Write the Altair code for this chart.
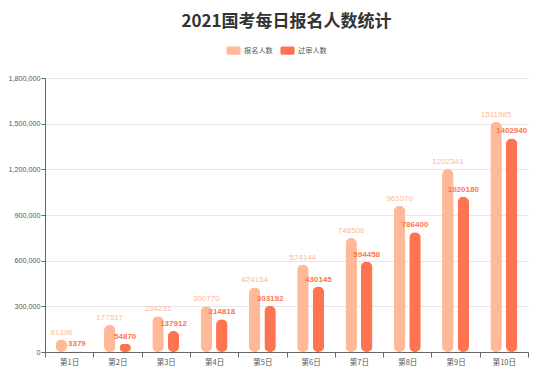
import altair as alt
import pandas as pd

days = ["第1日", "第2日", "第3日", "第4日", "第5日", "第6日", "第7日", "第8日", "第9日", "第10日"]
registered = [81396, 177517, 234231, 300770, 424154, 574144, 748506, 961070, 1202341, 1511985]
approved = [3379, 54870, 137912, 214818, 303192, 430145, 594458, 786400, 1020180, 1402940]
series_names = ["报名人数", "过审人数"]
colors = ["#FFB999", "#FF7450"]
label_colors = ["#FFB999", "#FF7450"]

rows = []
for d, r, a in zip(days, registered, approved):
    rows.append({"day": d, "series": series_names[0], "value": r})
    rows.append({"day": d, "series": series_names[1], "value": a})
df = pd.DataFrame(rows)

FONT = "Noto Sans CJK SC"
NUMFONT = "Liberation Sans"

x = alt.X("day:N", sort=days, title=None,
          scale=alt.Scale(paddingInner=0, paddingOuter=0),
          axis=alt.Axis(labelAngle=0, labelFontSize=7.5, labelColor="#555", labelFont=FONT,
                        domainColor="#666", tickColor="#666", tickBand="extent",
                        tickSize=5, labelPadding=1, grid=False))
xoff = alt.XOffset("series:N", sort=series_names,
                   scale=alt.Scale(paddingInner=0.26, paddingOuter=0.69))
y = alt.Y("value:Q", title=None,
          scale=alt.Scale(domain=[0, 1800000], nice=False),
          axis=alt.Axis(values=list(range(0, 1800001, 300000)), format=",d",
                        labelFontSize=7.2, labelColor="#555", labelFont=NUMFONT,
                        domainColor="#666", tickColor="#666", tickSize=4,
                        gridColor="#e6e6e6", labelPadding=1))
color = alt.Color("series:N", sort=series_names,
                  scale=alt.Scale(domain=series_names, range=colors),
                  legend=alt.Legend(title=None, orient="none", direction="horizontal",
                                    legendX=181, legendY=-35,
                                    symbolType="M-0.75,-0.6 L0.75,-0.6 A0.25,0.25 0 0 1 1,-0.35 L1,0.35 A0.25,0.25 0 0 1 0.75,0.6 L-0.75,0.6 A0.25,0.25 0 0 1 -1,0.35 L-1,-0.35 A0.25,0.25 0 0 1 -0.75,-0.6 Z",
                                    symbolSize=200, symbolStrokeWidth=0, symbolOpacity=1,
                                    labelFontSize=7.2, labelColor="#555", labelFont=FONT,
                                    columnPadding=7, labelOffset=3))

bars = alt.Chart(df).mark_bar(width=11.5, cornerRadius=5.75).encode(
    x=x, xOffset=xoff, y=y, color=color
)

lab1 = alt.Chart(df).transform_filter(alt.datum.series == series_names[0]).mark_text(
    dy=-3, baseline="bottom", fontSize=8, font=NUMFONT, color=label_colors[0]
).encode(x=x, xOffset=xoff, y=y, text="value:Q")

lab2 = alt.Chart(df).transform_filter(alt.datum.series == series_names[1]).mark_text(
    dy=-3, baseline="bottom", fontSize=8, font=NUMFONT, fontWeight="bold", color=label_colors[1]
).encode(x=x, xOffset=xoff, y=y, text="value:Q")

chart = alt.layer(bars, lab1, lab2).properties(
    width=483, height=274,
    title=alt.TitleParams("2021国考每日报名人数统计", font=FONT, fontSize=17, fontWeight="bold",
                          color="#333", anchor="middle", offset=12),
    padding={"left": 37, "top": 70, "right": 13, "bottom": 20},
    autosize=alt.AutoSizeParams(type="none"),
).configure_view(stroke=None)

chart.save("out.html", embed_options={"renderer": "svg", "actions": False})
